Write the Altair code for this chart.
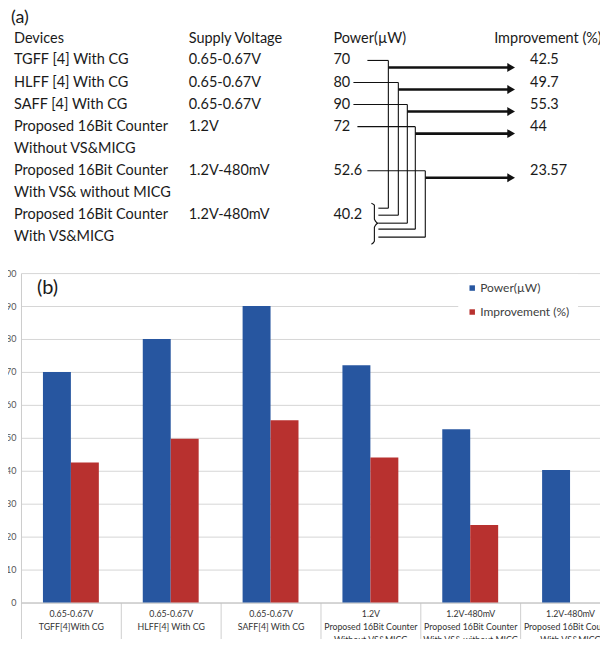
import altair as alt
import pandas as pd

# ---------------- data ----------------
headers = ["Devices", "Supply Voltage", "Power(µW)", "Improvement (%)"]
device_line1 = ["TGFF [4] With CG", "HLFF [4] With CG", "SAFF [4] With CG",
                "Proposed 16Bit Counter", "Proposed 16Bit Counter", "Proposed 16Bit Counter"]
device_line2 = ["", "", "", "Without VS&MICG", "With VS& without MICG", "With VS&MICG"]
voltages = ["0.65-0.67V", "0.65-0.67V", "0.65-0.67V", "1.2V", "1.2V-480mV", "1.2V-480mV"]
power_labels = ["70", "80", "90", "72", "52.6", "40.2"]
improvement_labels = ["42.5", "49.7", "55.3", "44", "23.57"]

bar_devices = ["TGFF[4]With CG", "HLFF[4] With CG", "SAFF[4] With CG",
               "Proposed 16Bit Counter|Without VS&MICG",
               "Proposed 16Bit Counter|With VS& without MICG",
               "Proposed 16Bit Counter|With VS&MICG"]
power = [70, 80, 90, 72, 52.6, 40.2]
improvement = [42.5, 49.7, 55.3, 44, 23.57]
series = ["Power(µW)", "Improvement (%)"]
colors = ["#2756a0", "#b8312f"]

# ---------------- layout (panel a), page pixel units ----------------
TOP = 8        # page y of panel (a) top
AX = 20        # page x of the plot origin (y axis of panel b)
W_A, H_A = 600, 250
COL_X = [13, 188, 333, 494]
VAL_X = 530
HEAD_Y = 38
ROW_Y0, ROW_DY = 59, 22.1
first_line = [0, 1, 2, 3, 5, 7]
line_start = [367, 353, 353, 357, 367]
vert_x = [388, 398, 407, 415, 425]
bottom_y = [207, 214, 222, 228, 236]
BRACE_X = 378
ARROW_END, ARROW_TIP = 508, 511
TXT = "#1a1a1a"
FS = 14.5


def ly(k):
    return ROW_Y0 + ROW_DY * k - TOP


texts = [dict(x=10, y=16 - TOP, t="(a)", s=18)]
for cx, h in zip(COL_X, headers):
    texts.append(dict(x=cx, y=HEAD_Y - TOP, t=h, s=FS))
for i in range(len(device_line1)):
    k = first_line[i]
    texts.append(dict(x=COL_X[0], y=ly(k), t=device_line1[i], s=FS))
    if device_line2[i]:
        texts.append(dict(x=COL_X[0], y=ly(k + 1), t=device_line2[i], s=FS))
    texts.append(dict(x=COL_X[1], y=ly(k), t=voltages[i], s=FS))
    texts.append(dict(x=COL_X[2], y=ly(k), t=power_labels[i], s=FS))
for i, lab in enumerate(improvement_labels):
    texts.append(dict(x=VAL_X, y=ly(first_line[i]), t=lab, s=FS))
df_text = pd.DataFrame(texts)

segs, heads = [], []
for i in range(len(improvement_labels)):
    yk = ly(first_line[i])
    yb = bottom_y[i] - TOP
    segs.append(dict(x=line_start[i], x2=vert_x[i], y=yk, y2=yk, w=1.1))
    segs.append(dict(x=vert_x[i], x2=vert_x[i], y=yk, y2=yb, w=1.1))
    segs.append(dict(x=BRACE_X, x2=vert_x[i], y=yb, y2=yb, w=1.1))
    segs.append(dict(x=vert_x[i], x2=ARROW_END, y=yk + 7, y2=yk + 7, w=2.6))
    heads.append(dict(x=ARROW_TIP, y=yk + 7))
df_seg = pd.DataFrame(segs)
df_head = pd.DataFrame(heads)

brace_pts = [(371, 202), (374, 204), (374, 218), (378, 222), (374, 226), (374, 240), (371, 243)]
df_brace = pd.DataFrame([dict(x=px, y=py - TOP, o=j) for j, (px, py) in enumerate(brace_pts)])

xs = alt.Scale(domain=[AX, AX + W_A], nice=False, zero=False)
ys = alt.Scale(domain=[0, H_A], nice=False, zero=False, reverse=True)

t_layer = alt.Chart(df_text).mark_text(align="left", baseline="middle", color=TXT).encode(
    x=alt.X("x:Q", scale=xs, axis=None),
    y=alt.Y("y:Q", scale=ys, axis=None),
    text="t:N",
    size=alt.Size("s:Q", scale=None, legend=None),
)
s_layer = alt.Chart(df_seg).mark_rule(color="#111111").encode(
    x=alt.X("x:Q", scale=xs, axis=None), x2="x2:Q",
    y=alt.Y("y:Q", scale=ys, axis=None), y2="y2:Q",
    strokeWidth=alt.StrokeWidth("w:Q", scale=None, legend=None),
)
h_layer = alt.Chart(df_head).mark_point(shape="triangle-right", filled=True, size=80,
                                        color="#111111", opacity=1).encode(
    x=alt.X("x:Q", scale=xs, axis=None),
    y=alt.Y("y:Q", scale=ys, axis=None),
)
b_layer = alt.Chart(df_brace).mark_line(color="#111111", strokeWidth=1.1, interpolate="monotone").encode(
    x=alt.X("x:Q", scale=xs, axis=None),
    y=alt.Y("y:Q", scale=ys, axis=None),
    order="o:Q",
)
panel_a = alt.layer(s_layer, h_layer, b_layer, t_layer).properties(width=W_A, height=H_A)

# ---------------- panel b ----------------
cats = [v + "|" + d for v, d in zip(voltages, bar_devices)]
rows = []
for i, c in enumerate(cats):
    rows.append(dict(cat=c, series=series[0], value=power[i]))
    if i < len(improvement):
        rows.append(dict(cat=c, series=series[1], value=improvement[i]))
df_b = pd.DataFrame(rows)

bars = alt.Chart(df_b).mark_bar().encode(
    x=alt.X("cat:N", sort=cats, scale=alt.Scale(paddingInner=0, paddingOuter=0),
            axis=alt.Axis(title=None, labelAngle=0, tickBand="extent", tickSize=45,
                          tickColor="#cfcfcf", domainColor="#bfbfbf", labelPadding=-38,
                          labelExpr="split(datum.label, '|')", labelFontSize=8.8,
                          labelColor="#333333", labelLineHeight=13, labelOverlap=False)),
    xOffset=alt.XOffset("series:N", sort=series,
                        scale=alt.Scale(domain=series, paddingInner=0, paddingOuter=0.786)),
    y=alt.Y("value:Q", scale=alt.Scale(domain=[0, 100], nice=False),
            axis=alt.Axis(title=None, values=list(range(0, 101, 10)), grid=True,
                          gridColor="#d6d6d6", domainColor="#cccccc", ticks=False,
                          labelFontSize=9, labelColor="#555555", labelPadding=5)),
    color=alt.Color("series:N", sort=series, scale=alt.Scale(domain=series, range=colors),
                    legend=alt.Legend(title=None, orient="none", legendX=438, legendY=265,
                                      direction="vertical", symbolType="square", symbolSize=30,
                                      labelFontSize=12, labelColor="#404040", fillColor="white",
                                      padding=8, rowPadding=12, labelOffset=2)),
)
blabel = alt.Chart(pd.DataFrame({"t": ["(b)"]})).mark_text(
    align="left", baseline="middle", fontSize=20, color=TXT).encode(
    text="t:N", x=alt.value(16), y=alt.value(15))

panel_b = alt.layer(bars, blabel).properties(width=600, height=330)

chart = alt.vconcat(panel_a, panel_b, spacing=10).properties(
    padding={"left": -8, "top": 0, "right": -21, "bottom": -10}
).configure(font="Lato").configure_view(stroke=None)

chart.save("out.html", embed_options={"renderer": "svg", "actions": False})
